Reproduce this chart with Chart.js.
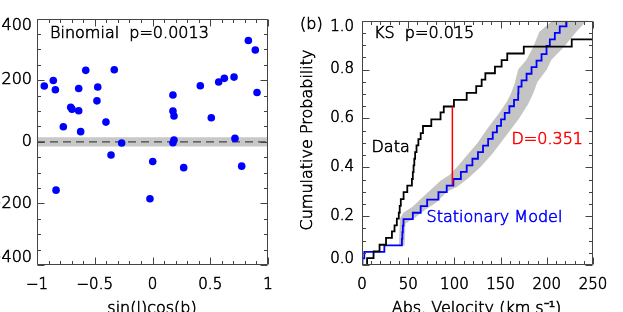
<!DOCTYPE html>
<html><head><meta charset="utf-8">
<script src="https://cdn.jsdelivr.net/npm/chart.js@4.4.1/dist/chart.umd.min.js"></script>
<style>
html,body{margin:0;padding:0;background:#fff;width:623px;height:312px;overflow:hidden;}
#c1{position:absolute;left:0;top:0;}
#c2{position:absolute;left:300px;top:0;}
</style></head><body>
<canvas id="c1" width="300" height="312"></canvas>
<canvas id="c2" width="323" height="312"></canvas>
<script>
// ---------- Panel (a): velocity vs sin(l)cos(b) ----------
const sinLcosB = [-0.937,-0.859,-0.841,-0.772,-0.708,-0.697,-0.639,-0.639,-0.622,-0.578,-0.474,-0.481,-0.403,-0.331,-0.267,-0.359,0.002,-0.022,-0.835,0.270,0.772,0.177,0.177,0.186,0.186,0.177,0.414,0.509,0.573,0.622,0.706,0.714,0.830,0.890,0.905];
const velocity = [181,199,169,49,112,106,101,173,33,232,178,133,64,234,-4,-43,-64,-185,-157,-84,-79,152,100,84,6,-3,182,78,194,206,210,11,329,298,160];
const zeroBand = [-15, 15];
const leftXTicks = [-1, -0.5, 0, 0.5, 1];
const leftYTicks = [-400, -200, 0, 200, 400];

// ---------- Panel (b): cumulative distributions ----------
const dataVel  = [0,5.5,12.5,19.0,26.0,32.4,35.2,37.7,39.8,40.8,42.0,45.0,49.0,54.0,55.0,55.8,56.6,57.5,59.0,61.0,63.5,66.0,75.0,85.0,88.5,99.5,113.3,123.6,129.5,133.5,143.9,151.1,157.2,175.1,227.0,250];
const dataProb = [0,0.028,0.056,0.083,0.111,0.138,0.162,0.190,0.214,0.242,0.270,0.298,0.325,0.352,0.380,0.408,0.435,0.462,0.490,0.515,0.540,0.569,0.596,0.625,0.649,0.676,0.705,0.732,0.759,0.785,0.812,0.839,0.866,0.894,0.924,0.924];
const modelVel  = [0,0.5,2.5,24.2,43.2,43.7,44.2,44.9,55.0,63.5,70.5,82.7,91.7,98.9,107.0,113.3,119.5,125.5,131.0,136.5,141.5,146.0,150.5,154.5,159.5,164.5,169.0,169.3,172.7,178.1,183.5,188.9,194.3,199.7,203.3,208.7,214.0,221.3];
const modelProb = [0,0.027,0.054,0.080,0.107,0.134,0.161,0.188,0.214,0.241,0.268,0.298,0.325,0.352,0.381,0.408,0.435,0.462,0.489,0.516,0.543,0.570,0.596,0.623,0.650,0.676,0.703,0.730,0.756,0.783,0.810,0.837,0.863,0.897,0.924,0.950,0.977,1.0];
const bandUpperV = [40,41,45,55,65,75,85,95,105,115,125,135,145,150,157,161,165,169,178,185,192,206,221];
const bandUpperP = [0.08,0.19,0.215,0.24,0.275,0.31,0.345,0.37,0.41,0.455,0.50,0.555,0.605,0.63,0.67,0.70,0.74,0.80,0.84,0.89,0.955,1.0,1.05];
const bandLowerV = [255,243,232,218,205,200,190,185,180,170,160,150,140,128,115,103,92,80,68,58,47,46];
const bandLowerP = [1.05,1.0,0.955,0.89,0.84,0.80,0.75,0.70,0.66,0.60,0.55,0.50,0.45,0.40,0.355,0.32,0.30,0.255,0.225,0.195,0.17,0.08];
const ksVel = [97.8, 97.8];
const ksProb = [0.328, 0.649];
const rightXTicks = [0, 50, 100, 150, 200, 250];
const rightYTicks = [0, 0.2, 0.4, 0.6, 0.8, 1.0];

// ---------- helpers ----------
const FAM = '"DejaVu Sans"';
const WGT = 300;
const TXT = '#000';
const STROKE = 0.6;
const pts = (xs, ys) => xs.map((x, i) => ({x: x, y: ys[i]}));
const minus = s => String(s).replace('-', '\u2212');

function framePlugin(cfg) {
  return {
    id: 'frameTicks',
    afterDatasetsDraw(chart) {
      const {ctx, chartArea: a} = chart;
      const xs = chart.scales.x, ys = chart.scales.y;
      const L = Math.round(a.left) + 0.5, R = Math.round(a.right) - 0.5;
      const T = Math.round(a.top) + 0.5, B = Math.round(a.bottom) - 0.5;
      const isMaj = (arr, v) => arr.some(m => Math.abs(m - v) < 1e-6);
      ctx.save();
      ctx.strokeStyle = '#444';
      ctx.lineWidth = 1;
      ctx.beginPath();
      ctx.rect(L, T, R - L, B - T);
      const nx = Math.round((xs.max - xs.min) / cfg.xMinor);
      for (let i = 0; i <= nx; i++) {
        const v = xs.min + i * cfg.xMinor;
        const p = Math.round(xs.getPixelForValue(v)) + 0.5;
        const len = isMaj(cfg.xMajor, v) ? 7 : 3.5;
        ctx.moveTo(p, B); ctx.lineTo(p, B - len);
        ctx.moveTo(p, T); ctx.lineTo(p, T + len);
      }
      const ny = Math.round((ys.max - ys.min) / cfg.yMinor);
      for (let i = 0; i <= ny; i++) {
        const v = ys.min + i * cfg.yMinor;
        const p = Math.round(ys.getPixelForValue(v)) + 0.5;
        const len = isMaj(cfg.yMajor, v) ? 7 : 3.5;
        ctx.moveTo(L, p); ctx.lineTo(L + len, p);
        ctx.moveTo(R, p); ctx.lineTo(R - len, p);
      }
      ctx.stroke();
      ctx.restore();
    }
  };
}

function textPlugin(items) {
  return {
    id: 'texts',
    afterDraw(chart) {
      const ctx = chart.ctx;
      for (const t of items) {
        ctx.save();
        ctx.font = WGT + ' ' + (t.size || 16) + 'px ' + FAM;
        ctx.fillStyle = t.color || TXT;
        ctx.strokeStyle = t.color || TXT;
        ctx.lineWidth = STROKE;
        ctx.textAlign = t.align || 'left';
        ctx.textBaseline = t.baseline || 'middle';
        ctx.translate(t.x, t.y);
        if (t.rot) ctx.rotate(t.rot);
        ctx.strokeText(t.text, 0, 0);
        ctx.fillText(t.text, 0, 0);
        ctx.restore();
      }
    }
  };
}

function axes(xr, yr, xTicks, yTicks, yW, xH, yPad, ySize, fmtX, fmtY) {
  return {
    x: {
      type: 'linear', min: xr[0], max: xr[1],
      grid: {display: false, drawTicks: false}, border: {display: false},
      afterBuildTicks: s => { s.ticks = xTicks.map(v => ({value: v})); },
      afterFit: s => { s.height = xH; },
      ticks: {autoSkip: false, maxRotation: 0, padding: 11, color: TXT,
        textStrokeColor: TXT, textStrokeWidth: STROKE,
        font: {family: 'DejaVu Sans', size: 15, weight: WGT, lineHeight: 1.2},
        callback: v => fmtX(v)}
    },
    y: {
      type: 'linear', min: yr[0], max: yr[1],
      grid: {display: false, drawTicks: false}, border: {display: false},
      afterBuildTicks: s => { s.ticks = yTicks.map(v => ({value: v})); },
      afterFit: s => { s.width = yW; },
      ticks: {autoSkip: false, padding: yPad, color: TXT,
        textStrokeColor: TXT, textStrokeWidth: STROKE,
        font: {family: 'DejaVu Sans', size: ySize, weight: WGT, lineHeight: 0.85},
        callback: v => {
          const s = fmtY(v);
          if (Math.abs(v - yr[1]) < 1e-9) return ['', s];
          if (Math.abs(v - yr[0]) < 1e-9) return [s, ''];
          return s;
        }}
    }
  };
}

const common = {
  responsive: false, animation: false, devicePixelRatio: 1,
  plugins: {legend: {display: false}, tooltip: {enabled: false}},
};

// ---------- left chart ----------
new Chart(document.getElementById('c1'), {
  type: 'scatter',
  data: {
    datasets: [
      {data: pts(sinLcosB, velocity), pointRadius: 3.8, pointBackgroundColor: '#0000ff', pointBorderWidth: 0, showLine: false},
      {data: pts([-1, 1], [0, 0]), showLine: true, borderColor: '#444', borderWidth: 1.3, borderDash: [8, 5], pointRadius: 0},
      {data: pts([-1, 1], [zeroBand[1], zeroBand[1]]), showLine: true, borderWidth: 0, pointRadius: 0,
        fill: {value: zeroBand[0]}, backgroundColor: '#c8c8c8'}
    ]
  },
  options: Object.assign({}, common, {
    layout: {padding: {left: 0, right: 32, top: 15, bottom: 0}},
    scales: axes([-1, 1], [-400, 400], leftXTicks, leftYTicks, 37, 47, 5, 16,
      v => minus(v), v => minus(v))
  }),
  plugins: [
    framePlugin({xMinor: 0.1, yMinor: 50, xMajor: leftXTicks, yMajor: leftYTicks}),
    textPlugin([
      {text: 'Binomial  p=0.0013', x: 50, y: 34},
      {text: 'sin(l)cos(b)', x: 152, y: 312.5, align: 'center', baseline: 'alphabetic'}
    ])
  ]
});

// ---------- right chart ----------
new Chart(document.getElementById('c2'), {
  type: 'scatter',
  data: {
    datasets: [
      {data: pts(ksVel, ksProb), showLine: true, borderColor: '#ff0000', borderWidth: 1.5, pointRadius: 0},
      {data: pts(dataVel, dataProb), showLine: true, stepped: true, borderColor: '#000000', borderWidth: 1.8, pointRadius: 0},
      {data: pts(modelVel, modelProb), showLine: true, stepped: true, borderColor: '#0000ff', borderWidth: 1.8, pointRadius: 0},
      {data: pts(bandUpperV.concat(bandLowerV), bandUpperP.concat(bandLowerP)), showLine: true, borderWidth: 0,
        pointRadius: 0, fill: 'shape', backgroundColor: '#c4c4c4'}
    ]
  },
  options: Object.assign({}, common, {
    layout: {padding: {left: 0, right: 30, top: 16, bottom: 0}},
    scales: axes([0, 250], [0, 1], rightXTicks, rightYTicks, 62, 47, 8, 15,
      v => String(v), v => v.toFixed(1))
  }),
  plugins: [
    framePlugin({xMinor: 10, yMinor: 0.05, xMajor: rightXTicks, yMajor: rightYTicks}),
    textPlugin([
      {text: '(b)', x: 0, y: 25},
      {text: 'KS  p=0.015', x: 74, y: 34},
      {text: 'Data', x: 71.5, y: 147.5},
      {text: 'D=0.351', x: 211.5, y: 140, color: '#ff0000'},
      {text: 'Stationary Model', x: 126.5, y: 218, color: '#0000ff'},
      {text: 'Cumulative Probability', x: 12, y: 140, align: 'center', baseline: 'alphabetic', rot: -Math.PI / 2},
      {text: 'Abs. Velocity (km s\u207B\u00B9)', x: 176.5, y: 312.5, align: 'center', baseline: 'alphabetic'}
    ])
  ]
});
</script>
</body></html>
